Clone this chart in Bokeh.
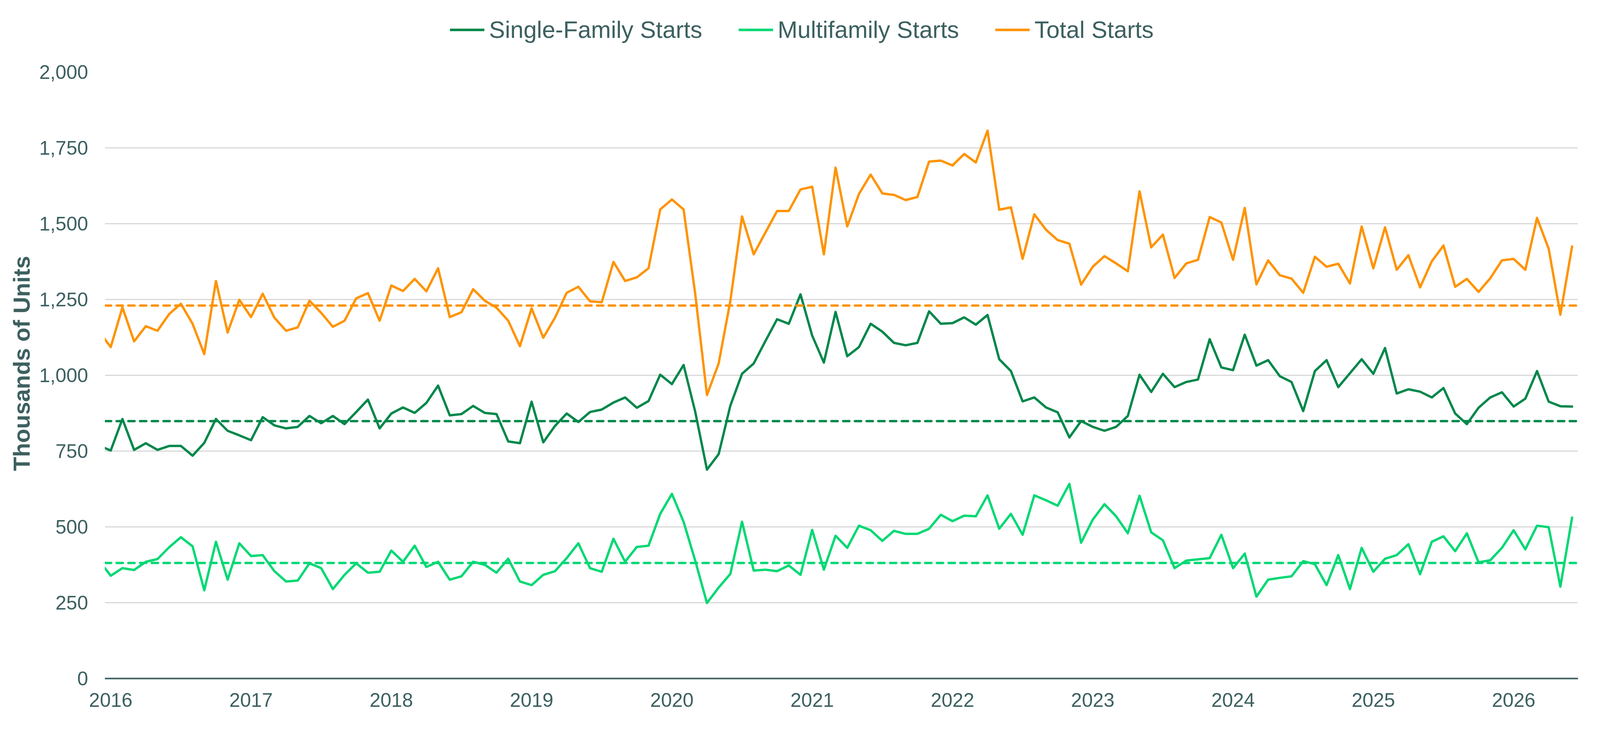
from bokeh.plotting import figure
from bokeh.layouts import column
from bokeh.models import Range1d, FixedTicker, NumeralTickFormatter, Legend, LegendItem, Span, Title
from bokeh.embed import file_html
from bokeh.resources import INLINE

# monthly housing starts, thousands of units (SAAR)
# first value is Dec 2015 (only half visible at the left edge), last is Jun 2026
month_index = list(range(-1, 126))

single_family = [
    768,
    752, 856, 754, 776, 754, 767, 767, 735, 777, 856, 817, 802,
    786, 862, 835, 825, 830, 866, 842, 866, 839, 879, 920, 825,
    874, 894, 876, 909, 966, 868, 872, 899, 876, 872, 782, 776,
    913, 779, 833, 874, 846, 879, 887, 910, 927, 893, 915, 1002,
    971, 1034, 879, 689, 740, 900, 1005, 1039, 1113, 1185, 1170, 1267,
    1131, 1042, 1209, 1063, 1093, 1170, 1144, 1107, 1099, 1107, 1211, 1170,
    1172, 1191, 1167, 1199, 1053, 1014, 914, 927, 894, 878, 795, 849,
    830, 817, 830, 866, 1002, 945, 1005, 961, 978, 986, 1119, 1026,
    1017, 1134, 1032, 1050, 997, 978, 882, 1014, 1050, 961, 1007, 1053,
    1005, 1090, 940, 954, 946, 927, 958, 874, 839, 893, 927, 944,
    897, 923, 1014, 913, 898, 897,
]

multifamily = [
    389,
    339, 364, 358, 385, 394, 433, 466, 436, 291, 451, 326, 446,
    404, 407, 354, 320, 323, 380, 364, 295, 342, 380, 349, 352,
    422, 385, 438, 368, 385, 326, 337, 385, 375, 349, 395, 320,
    308, 342, 354, 397, 446, 364, 352, 461, 385, 434, 438, 543,
    609, 517, 388, 249, 300, 345, 517, 356, 359, 354, 373, 342,
    490, 359, 471, 431, 504, 489, 454, 487, 477, 477, 494, 540,
    519, 537, 535, 604, 494, 543, 474, 604, 588, 570, 642, 448,
    524, 575, 535, 479, 603, 482, 456, 364, 389, 393, 397, 474,
    364, 412, 270, 326, 332, 337, 387, 377, 308, 407, 295, 431,
    352, 395, 407, 443, 344, 451, 469, 420, 479, 383, 390, 431,
    489, 426, 504, 499, 303, 531,
]

total = [
    1145,
    1093, 1224, 1112, 1162, 1147, 1202, 1236, 1170, 1070, 1311, 1141, 1249,
    1192, 1269, 1190, 1147, 1158, 1246, 1206, 1160, 1180, 1254, 1271, 1180,
    1296, 1278, 1318, 1277, 1353, 1192, 1208, 1284, 1246, 1223, 1180, 1096,
    1221, 1124, 1190, 1272, 1292, 1244, 1241, 1374, 1311, 1323, 1353, 1547,
    1580, 1547, 1267, 935, 1039, 1245, 1524, 1399, 1471, 1542, 1542, 1613,
    1622, 1399, 1685, 1491, 1598, 1662, 1600, 1595, 1578, 1588, 1705, 1708,
    1692, 1730, 1702, 1807, 1546, 1554, 1384, 1531, 1480, 1446, 1434, 1299,
    1358, 1393, 1369, 1343, 1607, 1422, 1464, 1321, 1369, 1381, 1522, 1504,
    1381, 1552, 1300, 1379, 1330, 1319, 1272, 1391, 1358, 1368, 1303, 1491,
    1353, 1488, 1348, 1396, 1290, 1376, 1428, 1292, 1318, 1275, 1320, 1379,
    1384, 1348, 1519, 1417, 1200, 1425,
]

# long run averages (dashed lines)
avg_single_family = 849
avg_multifamily = 381
avg_total = 1230

years = ["2016", "2017", "2018", "2019", "2020", "2021", "2022", "2023", "2024", "2025", "2026"]
year_ticks = [12 * k for k in range(len(years))]

sf_color = "#00874A"
mf_color = "#00D873"
total_color = "#FF9300"
text_color = "#3D6060"
font = "Liberation Sans"
lw = 6

W = 4076
LEFT = 268

# main chart
p = figure(width=W, height=1685, output_backend="svg", toolbar_location=None,
           x_range=Range1d(-0.5, 125.5), y_range=Range1d(0, 2000),
           min_border_left=LEFT, min_border_right=37, min_border_top=45, min_border_bottom=88)
p.outline_line_color = None
p.background_fill_color = "white"

p.yaxis.ticker = FixedTicker(ticks=[0, 250, 500, 750, 1000, 1250, 1500, 1750, 2000])
p.yaxis.formatter = NumeralTickFormatter(format="0,0")
p.yaxis.axis_line_color = None
p.yaxis.major_tick_line_color = None
p.yaxis.minor_tick_line_color = None
p.yaxis.major_tick_out = 0
p.yaxis.major_label_text_font = font
p.yaxis.major_label_text_font_size = "50px"
p.yaxis.major_label_text_color = text_color
p.yaxis.major_label_standoff = 43

# y title as a side title, started a fixed distance above the x axis
p.add_layout(Title(text="Thousands of Units", align="left", offset=531, standoff=18,
                   text_font=font, text_font_size="59px", text_font_style="bold",
                   text_color=text_color), "left")

p.xaxis.ticker = FixedTicker(ticks=year_ticks)
p.xaxis.major_label_overrides = dict(zip(year_ticks, years))
p.xaxis.axis_line_color = text_color
p.xaxis.axis_line_width = 3.8
p.xaxis.major_tick_line_color = None
p.xaxis.minor_tick_line_color = None
p.xaxis.major_tick_out = 0
p.xaxis.major_label_text_font = font
p.xaxis.major_label_text_font_size = "50px"
p.xaxis.major_label_text_color = text_color
p.xaxis.major_label_standoff = 37

p.xgrid.grid_line_color = None
p.ygrid.grid_line_color = "#D9D9D9"
p.ygrid.grid_line_width = 2.9

# averages
for avg, col in [(avg_total, total_color), (avg_single_family, sf_color), (avg_multifamily, mf_color)]:
    p.add_layout(Span(location=avg, dimension="width", line_color=col, line_width=lw,
                      line_dash="16 14", line_cap="round"))

# series
p.line(month_index, single_family, line_color=sf_color, line_width=lw, line_join="round", line_cap="round")
p.line(month_index, multifamily, line_color=mf_color, line_width=lw, line_join="round", line_cap="round")
p.line(month_index, total, line_color=total_color, line_width=lw, line_join="round", line_cap="round")

# legend strip on top (own small figure so the legend is not clipped)
# note: the column lines up its frame with the main chart, so x is measured from LEFT
leg = figure(width=W, height=139, output_backend="svg", toolbar_location=None,
             x_range=Range1d(0, 1), y_range=Range1d(0, 1),
             x_axis_type=None, y_axis_type=None, min_border=0)
leg.outline_line_color = None
leg.xgrid.grid_line_color = None
leg.ygrid.grid_line_color = None

names = ["Single-Family Starts", "Multifamily Starts", "Total Starts"]
items = []
for name, col in zip(names, [sf_color, mf_color, total_color]):
    # dummy line outside the visible range, only used for the legend swatch
    r = leg.line([-3, -2], [-3, -2], line_color=col, line_width=6.7, line_cap="round")
    items.append(LegendItem(label=name, renderers=[r]))

legend = Legend(items=items, orientation="horizontal", location=(1152 - LEFT, 28),
                label_text_font=font, label_text_font_size="61px", label_text_color=text_color,
                glyph_width=88, glyph_height=70, label_height=70, label_standoff=12, spacing=93,
                padding=0, margin=0, border_line_color=None, background_fill_alpha=0)
leg.add_layout(legend, "center")

layout = column(leg, p, spacing=0)

open("out.html", "w").write(file_html(layout, INLINE))
